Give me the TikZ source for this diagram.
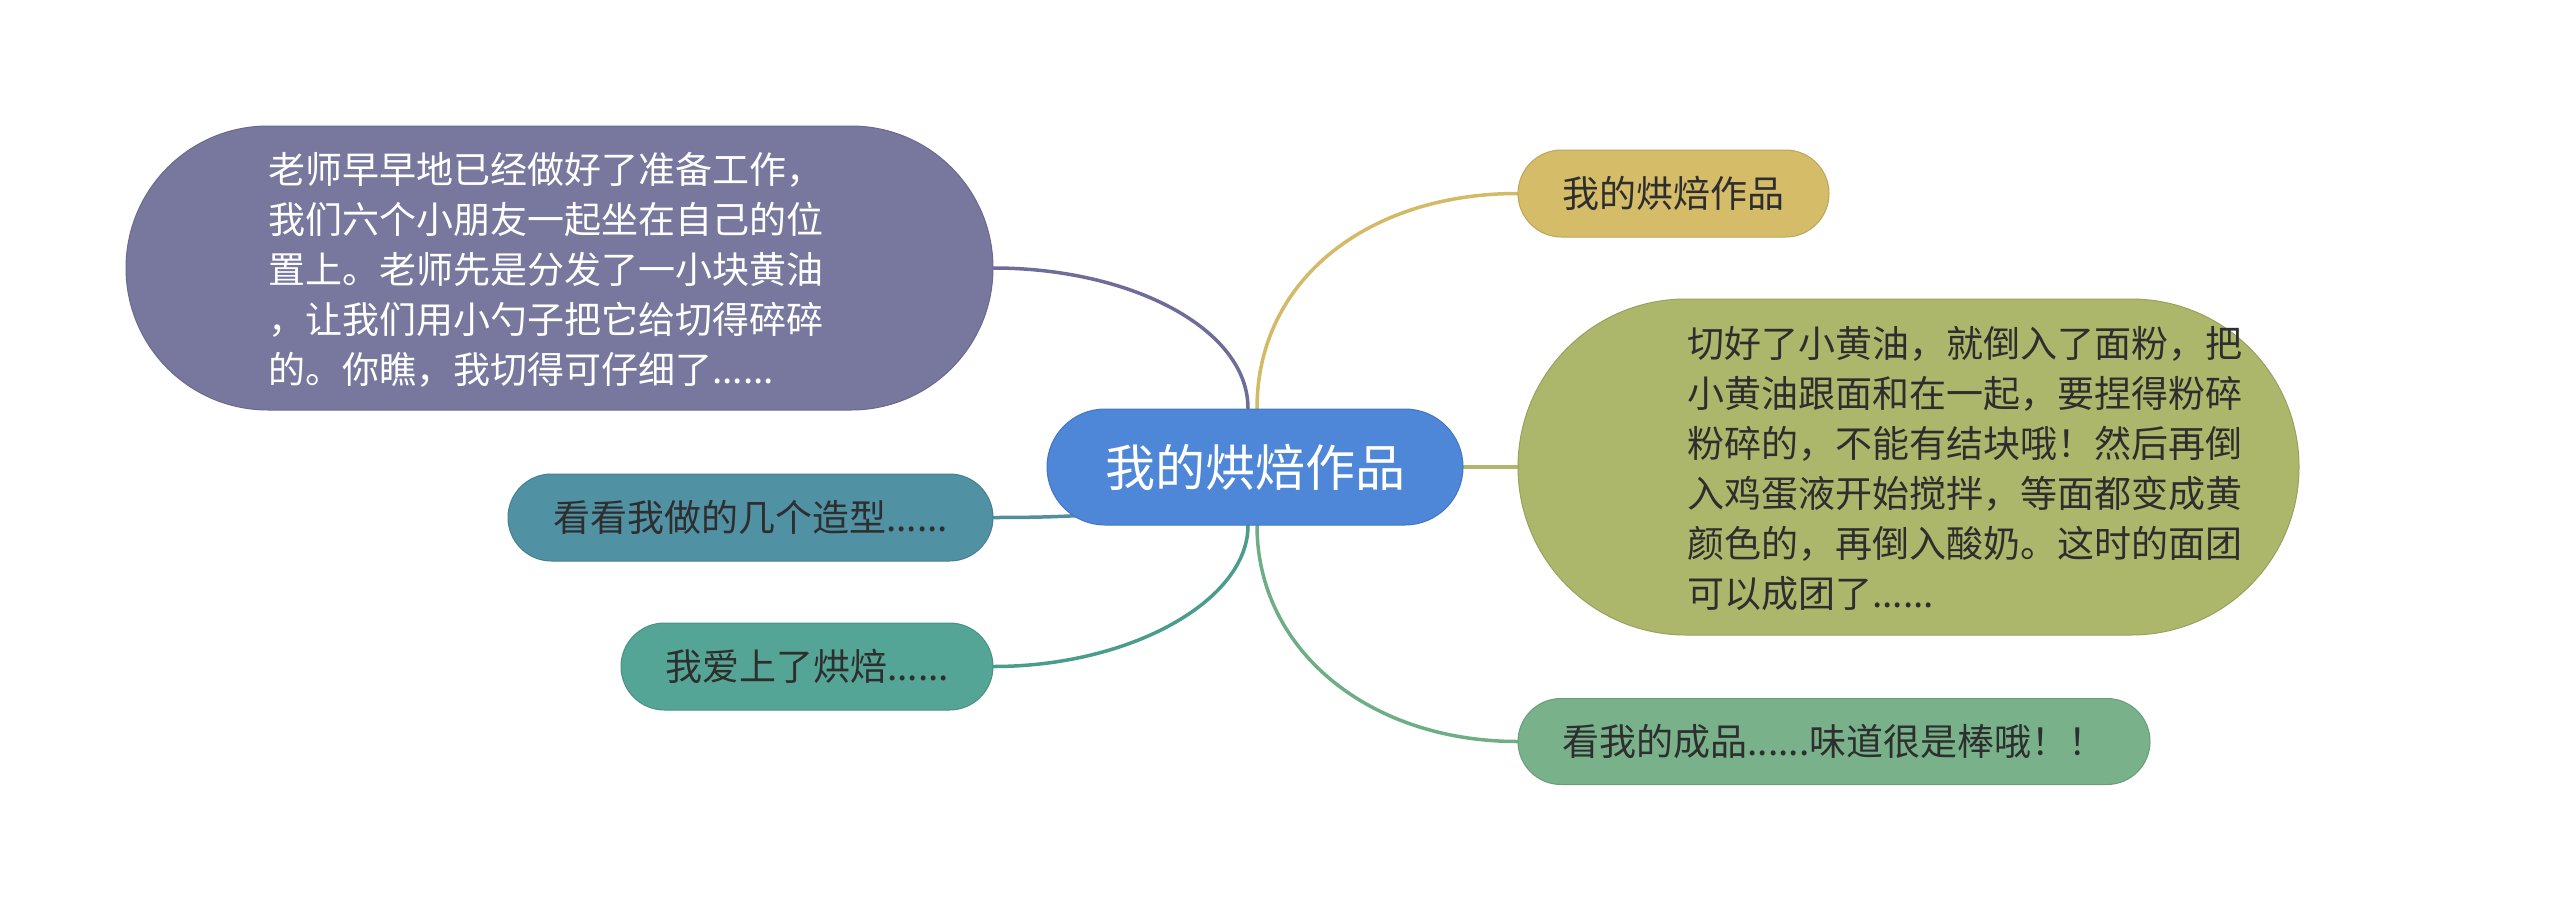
\documentclass[tikz,border=0pt]{standalone}
\usepackage{fontspec}
\newfontfamily\cjk{Noto Sans CJK SC}
\usetikzlibrary{calc,backgrounds}
\definecolor{cRoot}{HTML}{4E86D8}
\definecolor{cPurple}{HTML}{78789F}
\definecolor{cGold}{HTML}{D4BC69}
\definecolor{cOlive}{HTML}{ADB76B}
\definecolor{cTealA}{HTML}{5091A3}
\definecolor{cTealB}{HTML}{54A596}
\definecolor{cGreen}{HTML}{78B18A}
\definecolor{lPurple}{HTML}{6E6D9A}
\definecolor{lGold}{HTML}{D2BA66}
\definecolor{lOlive}{HTML}{B0B66C}
\definecolor{lTealA}{HTML}{4F8FA0}
\definecolor{lTealB}{HTML}{4A9C8D}
\definecolor{lGreen}{HTML}{6FAE85}
\definecolor{cText}{HTML}{2E2E2E}
\begin{document}
\begin{tikzpicture}[x=1pt,y=-1pt,
  pill/.style={inner sep=0pt, line width=1pt},
  txtS/.style={font=\cjk\fontsize{37}{50}\selectfont},
  txtB/.style={font=\cjk\fontsize{37}{50}\selectfont, align=left, inner sep=0pt, anchor=west},
  conn/.style={line width=3.5pt, line cap=round}]
\useasboundingbox (0,0) rectangle (2560,910);

% root
\node[pill, fill=cRoot, draw=cRoot!88!black, minimum width=416pt, minimum height=116pt,
  rounded corners=58pt, font=\cjk\fontsize{50}{60}\selectfont, text=white] (root) at (1255,467) {我的烘焙作品};

% left big node
\node[pill, fill=cPurple, draw=cPurple!88!black, minimum width=867pt, minimum height=284pt,
  rounded corners=142pt] (lb) at (559.5,268) {};
\node[txtB, text=white] (lbt) at (268,270) {老师早早地已经做好了准备工作，\\我们六个小朋友一起坐在自己的位\\置上。老师先是分发了一小块黄油\\，让我们用小勺子把它给切得碎碎\\的。你瞧，我切得可仔细了......};

% left small nodes
\node[pill, fill=cTealA, draw=cTealA!88!black, minimum width=485pt, minimum height=87pt,
  rounded corners=43.5pt, txtS, text=cText] (tu) at (750.5,517.5) {看看我做的几个造型......};
\node[pill, fill=cTealB, draw=cTealB!88!black, minimum width=372pt, minimum height=87pt,
  rounded corners=43.5pt, txtS, text=cText] (tl) at (807,666.5) {我爱上了烘焙......};

% right nodes
\node[pill, fill=cGold, draw=cGold!88!black, minimum width=311pt, minimum height=87pt,
  rounded corners=43.5pt, txtS, text=cText] (tr) at (1673.5,193.5) {我的烘焙作品};
\node[pill, fill=cOlive, draw=cOlive!88!black, minimum width=781pt, minimum height=336pt,
  rounded corners=168pt] (rb) at (1908.5,467) {};
\node[txtB, text=cText] (rbt) at (1687,469) {切好了小黄油，就倒入了面粉，把\\小黄油跟面和在一起，要捏得粉碎\\粉碎的，不能有结块哦！然后再倒\\入鸡蛋液开始搅拌，等面都变成黄\\颜色的，再倒入酸奶。这时的面团\\可以成团了......};
\node[pill, fill=cGreen, draw=cGreen!88!black, minimum width=632pt, minimum height=86pt,
  rounded corners=43pt, txtS, text=cText] (gr) at (1834,741.5) {看我的成品......味道很是棒哦！！};

\begin{scope}[on background layer]
\fill[white] (0,0) rectangle (2560,910);
% connectors
\draw[conn, lPurple] ($(root.north)+(-7,0)$) .. controls ($(root.north)+(-7,-80)$) and ($(lb.east)+(137,0)$) .. (lb.east);
\draw[conn, lGold] ($(root.north)+(2,0)$) .. controls ($(root.north)+(2,-130)$) and ($(tr.west)+(-148,0)$) .. (tr.west);
\draw[conn, lOlive] (root.east) -- (rb.west);
\draw[conn, lTealA] ($(root.center)+(-140,47)$) .. controls ($(root.center)+(-190,49)$) and ($(tu.east)+(60,0)$) .. (tu.east);
\draw[conn, lTealB] ($(root.south)+(-7,0)$) .. controls ($(root.south)+(-7,75)$) and ($(tl.east)+(137,0)$) .. (tl.east);
\draw[conn, lGreen] ($(root.south)+(2,0)$) .. controls ($(root.south)+(2,125)$) and ($(gr.west)+(-148,0)$) .. (gr.west);
\end{scope}
\end{tikzpicture}
\end{document}
